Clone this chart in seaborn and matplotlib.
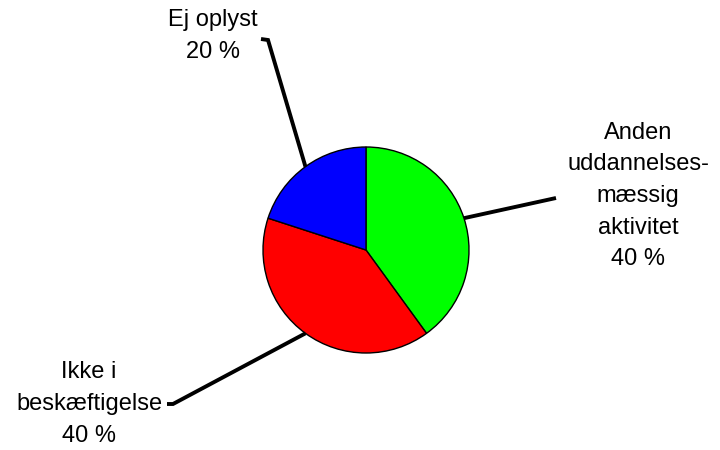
import numpy as np
import matplotlib
matplotlib.use("Agg")
import matplotlib.pyplot as plt
import seaborn as sns

# %% data
labels = ["Anden\nuddannelses-\nmæssig\naktivitet", "Ikke i\nbeskæftigelse", "Ej oplyst"]
shares = [40, 40, 20]
colors = ["#00ff00", "#ff0000", "#0000ff"]

# %% layout (pixel space, y measured upward)
center = (366, 200)
radius = 103
# label text centre, elbow end of leader line, short tick end
label_pos = [(638, 254), (89, 46), (213, 414)]
elbow = [(556, 252), (173, 46), (268, 410)]
tick_end = [(556, 252), (167, 46), (261, 411)]

sns.set_style("white")
plt.rcParams["font.family"] = ["Liberation Sans", "DejaVu Sans"]

fig = plt.figure(figsize=(7.2, 4.5), dpi=100)
ax = fig.add_axes([0, 0, 1, 1])
ax.set_xlim(0, 720)
ax.set_ylim(0, 450)
ax.set_aspect("equal")
ax.axis("off")

wedges, _ = ax.pie(shares, colors=colors, startangle=90, counterclock=False,
                   center=center, radius=radius,
                   wedgeprops=dict(edgecolor="black", linewidth=1.0))
ax.set_xlim(0, 720)
ax.set_ylim(0, 450)

for w, lab, val, lp, el, te in zip(wedges, labels, shares, label_pos, elbow, tick_end):
    mid = np.deg2rad((w.theta1 + w.theta2) / 2)
    sx = center[0] + radius * np.cos(mid)
    sy = center[1] + radius * np.sin(mid)
    ax.plot([sx, el[0], te[0]], [sy, el[1], te[1]], color="black", lw=2.8,
            solid_capstyle="butt", solid_joinstyle="miter", zorder=3)
    ax.text(lp[0], lp[1], f"{lab}\n{val} %", ha="center", va="center",
            fontsize=17, linespacing=1.56, color="black")

fig.savefig("out.png", dpi=100)
